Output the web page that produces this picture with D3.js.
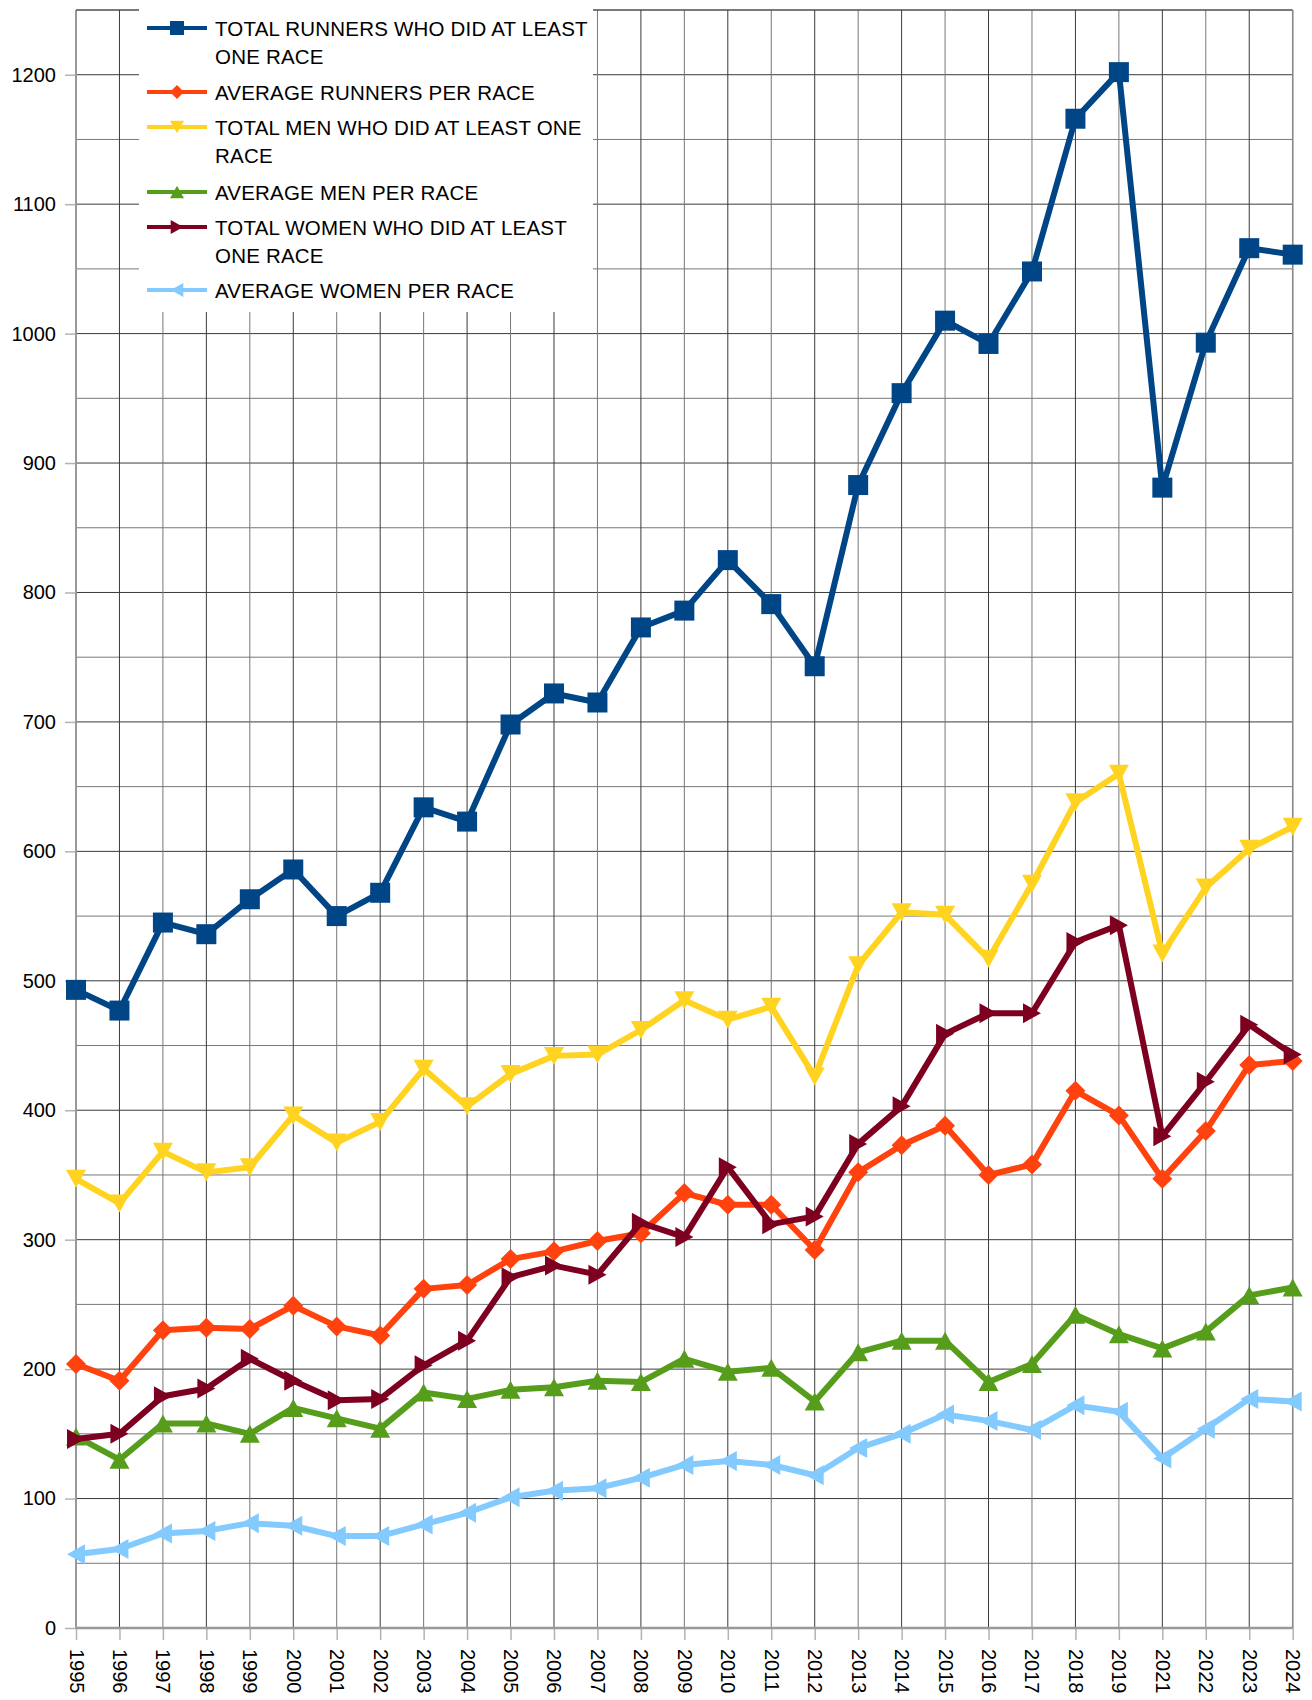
<!DOCTYPE html>
<html>
<head>
<meta charset="utf-8">
<script src="https://cdn.jsdelivr.net/npm/d3@7"></script>
<style>
  html, body { margin: 0; padding: 0; background: #fff; }
  svg { display: block; font-family: "Liberation Sans", Arial, sans-serif; }
</style>
</head>
<body>
<svg id="chart" width="1312" height="1700"></svg>
<script>
const years = ["1995","1996","1997","1998","1999","2000","2001","2002","2003","2004","2005","2006","2007","2008","2009","2010","2011","2012","2013","2014","2015","2016","2017","2018","2019","2021","2022","2023","2024"];
const totalRunners = [493,477,545,536,563,586,550,568,634,623,698,722,715,773,786,825,791,743,883,954,1010,992,1048,1166,1202,881,993,1066,1061];
const avgRunners   = [204,191,230,232,231,249,233,226,262,265,285,291,299,305,336,327,327,292,352,373,388,350,358,415,396,347,384,435,438];
const totalMen     = [347,328,368,352,356,396,375,391,432,403,428,442,443,462,485,470,480,426,512,553,551,517,575,638,660,521,572,602,619];
const avgMen       = [148,130,158,158,150,170,162,154,182,177,184,186,191,190,208,198,201,175,213,222,222,190,204,242,227,216,229,257,263];
const totalWomen   = [146,150,179,185,208,191,176,177,203,222,271,280,273,313,302,356,312,318,374,403,459,475,475,530,543,380,422,466,443];
const avgWomen     = [57,61,73,75,81,79,71,71,80,89,101,106,108,116,126,129,126,118,139,150,165,160,153,172,167,131,154,177,175];
const yTicks = [0,100,200,300,400,500,600,700,800,900,1000,1100,1200];
const seriesNames = [
  ["TOTAL RUNNERS WHO DID AT LEAST", "ONE RACE"],
  ["AVERAGE RUNNERS PER RACE"],
  ["TOTAL MEN WHO DID AT LEAST ONE", "RACE"],
  ["AVERAGE MEN PER RACE"],
  ["TOTAL WOMEN WHO DID AT LEAST", "ONE RACE"],
  ["AVERAGE WOMEN PER RACE"]
];

const colors = ["#004586","#ff420e","#ffd320","#579d1c","#7e0021","#83caff"];
const shapes = ["square","diamond","down","up","right","left"];
const series = [totalRunners, avgRunners, totalMen, avgMen, totalWomen, avgWomen];

const L = 76, R = 1292.7, T = 10, B = 1628;
const svg = d3.select("#chart");
const x = d3.scalePoint().domain(years).range([L, R]);
const y = d3.scaleLinear().domain([0, 1250]).range([B, T]);

function markerPath(shape, s) {
  const h = s / 2;
  switch (shape) {
    case "square": return `M${-h},${-h}H${h}V${h}H${-h}Z`;
    case "diamond": return `M0,${-h}L${h},0L0,${h}L${-h},0Z`;
    case "down": return `M${-h},${-h*0.9}L${h},${-h*0.9}L0,${h*0.9}Z`;
    case "up": return `M${-h},${h*0.9}L${h},${h*0.9}L0,${-h*0.9}Z`;
    case "right": return `M${-h*0.9},${-h}L${h*0.9},0L${-h*0.9},${h}Z`;
    case "left": return `M${h*0.9},${-h}L${-h*0.9},0L${h*0.9},${h}Z`;
  }
}

// grid
const grid = svg.append("g");
const minorVals = d3.range(50, 1251, 50);
grid.selectAll("line.h").data(minorVals).join("line")
  .attr("x1", L).attr("x2", R)
  .attr("y1", d => y(d)).attr("y2", d => y(d))
  .attr("stroke", d => d % 100 === 0 ? "#3a3a3a" : "#777")
  .attr("stroke-width", 1);
grid.selectAll("line.v").data(years.slice(1)).join("line")
  .attr("x1", d => x(d)).attr("x2", d => x(d))
  .attr("y1", T).attr("y2", B)
  .attr("stroke", (d, i) => i % 2 === 0 ? "#3a3a3a" : "#777")
  .attr("stroke-width", 1);

// y-axis
const yAxis = d3.axisLeft(y).tickValues(yTicks).tickSize(11).tickPadding(9).tickFormat(d3.format("d"));
const gy = svg.append("g").attr("transform", `translate(${L},0)`).call(yAxis);
gy.select(".domain").remove();
gy.selectAll(".tick line").attr("stroke", "#b3b3b3").attr("stroke-width", 1.5);
gy.selectAll(".tick text").attr("font-size", 20).attr("fill", "#000")
  .attr("font-family", "Liberation Sans, Arial, sans-serif");

// x-axis
const xAxis = d3.axisBottom(x).tickSize(12).tickPadding(0);
const gx = svg.append("g").attr("transform", `translate(0,${B})`).call(xAxis);
gx.select(".domain").remove();
gx.selectAll(".tick line").attr("stroke", "#b3b3b3").attr("stroke-width", 1.5);
gx.selectAll(".tick text")
  .attr("font-size", 20).attr("fill", "#000")
  .attr("font-family", "Liberation Sans, Arial, sans-serif")
  .attr("text-anchor", "start")
  .attr("dy", null)
  .attr("dominant-baseline", "central")
  .attr("transform", "translate(0,21) rotate(90)")
  .attr("y", 0).attr("x", 0);

// borders
svg.append("line").attr("x1", L).attr("x2", L).attr("y1", T).attr("y2", B)
  .attr("stroke", "#999").attr("stroke-width", 2);
svg.append("line").attr("x1", L).attr("x2", R).attr("y1", B).attr("y2", B)
  .attr("stroke", "#999").attr("stroke-width", 2.5);
svg.append("line").attr("x1", L).attr("x2", R).attr("y1", T).attr("y2", T)
  .attr("stroke", "#3a3a3a").attr("stroke-width", 1);
svg.append("line").attr("x1", R).attr("x2", R).attr("y1", T).attr("y2", B)
  .attr("stroke", "#888").attr("stroke-width", 1.5);

// legend background
svg.append("rect").attr("x", 139).attr("y", T - 1).attr("width", 454).attr("height", 303)
  .attr("fill", "#fff");

// series
const line = d3.line().x((d, i) => x(years[i])).y(d => y(d));
series.forEach((vals, si) => {
  const g = svg.append("g");
  g.append("path").datum(vals).attr("d", line)
    .attr("fill", "none").attr("stroke", colors[si]).attr("stroke-width", 6)
    .attr("stroke-linejoin", "round");
  g.selectAll("path.m").data(vals).join("path")
    .attr("class", "m")
    .attr("transform", (d, i) => `translate(${x(years[i])},${y(d)})`)
    .attr("d", markerPath(shapes[si], 20))
    .attr("fill", colors[si]);
});

// legend
const legRows = [28, 92, 127, 192, 227, 290];
const leg = svg.append("g");
seriesNames.forEach((lines, i) => {
  const cy = legRows[i];
  leg.append("line").attr("x1", 147).attr("x2", 207).attr("y1", cy).attr("y2", cy)
    .attr("stroke", colors[i]).attr("stroke-width", 4);
  leg.append("path").attr("transform", `translate(177,${cy})`)
    .attr("d", markerPath(shapes[i], 14)).attr("fill", colors[i]);
  lines.forEach((t, j) => {
    leg.append("text").attr("x", 215).attr("y", cy + j * 28)
      .attr("dominant-baseline", "central")
      .attr("font-size", 20.5).attr("letter-spacing", 0.2)
      .attr("fill", "#000").text(t);
  });
});
</script>
</body>
</html>
